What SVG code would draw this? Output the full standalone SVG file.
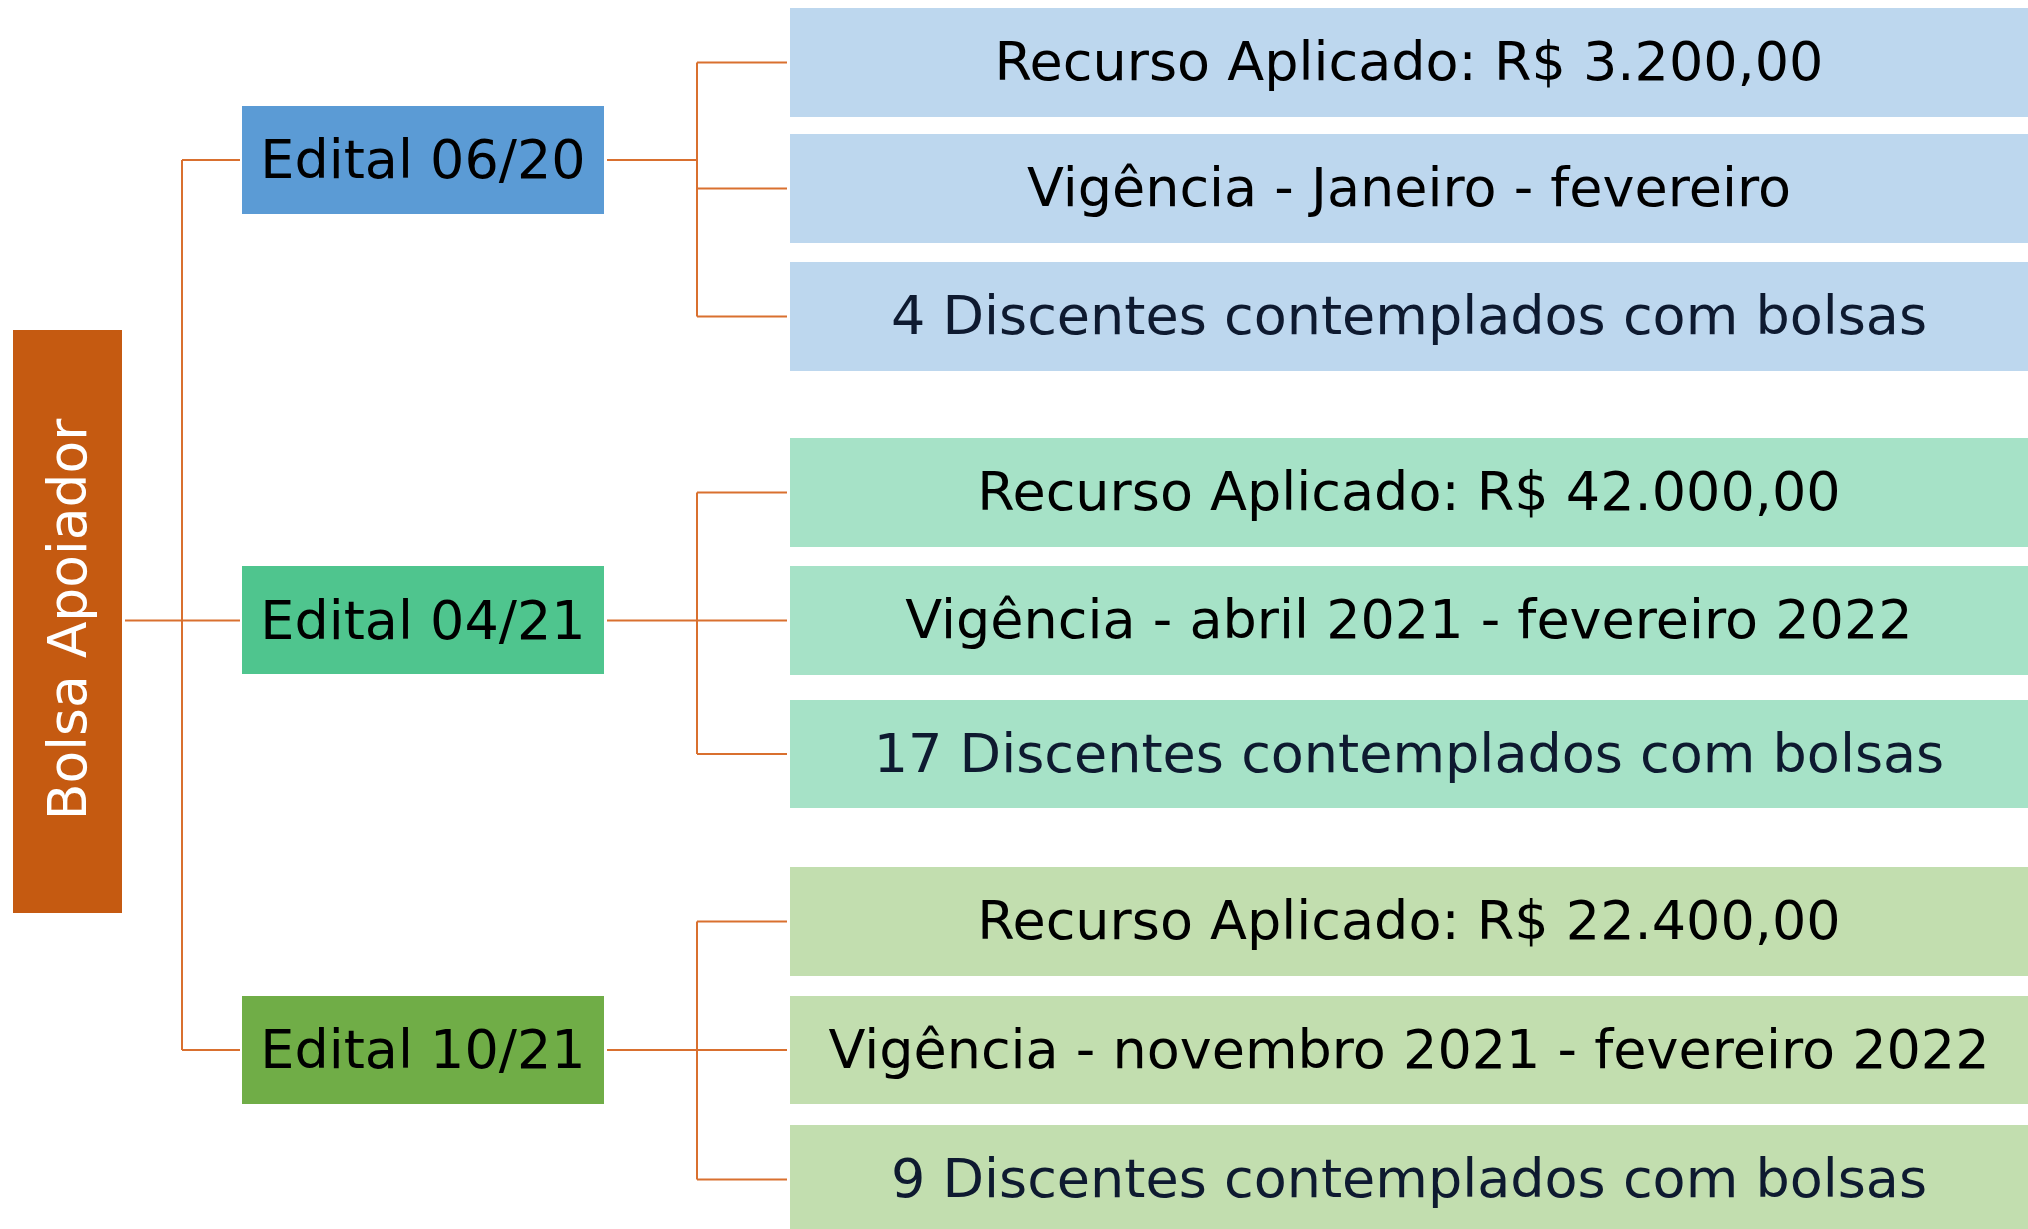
<svg xmlns="http://www.w3.org/2000/svg" width="2028" height="1229" viewBox="0 0 2028 1229">
  <style>
    .t { font-family: "DejaVu Sans", Verdana, sans-serif; font-size: 54px; text-anchor: middle; }
    .dark { fill: #000000; }
    .navy { fill: #0E1A30; }
    .con { fill: none; stroke: #D9702F; stroke-width: 2; }
    .b1 { fill: #BDD7EE; }
    .b2 { fill: #A6E2C7; }
    .b3 { fill: #C2DEAF; }
  </style>
  <rect width="2028" height="1229" fill="#FFFFFF"/>

  <g id="connectors">
    <path class="con" d="M125 620.5 H182 M182 160 V1050 M182 160 H240 M182 620.5 H240 M182 1050 H240"/>
    <path class="con" d="M607 160 H697 M697 62.5 V316.5 M697 62.5 H787 M697 188.5 H787 M697 316.5 H787"/>
    <path class="con" d="M607 620.5 H697 M697 492.5 V754 M697 492.5 H787 M697 620.5 H787 M697 754 H787"/>
    <path class="con" d="M607 1050 H697 M697 921.5 V1179.5 M697 921.5 H787 M697 1050 H787 M697 1179.5 H787"/>
  </g>

  <g id="root">
    <rect x="13" y="330" width="109" height="583" fill="#C55A11"/>
    <text class="t" transform="translate(85.5,619.5) rotate(-90)" x="0" y="0" fill="#FFFFFF" style="font-size:53.5px">Bolsa Apoiador</text>
  </g>

  <g id="edital-0620">
    <rect x="242" y="106" width="362" height="108" fill="#5B9BD5"/>
    <text class="t dark" x="423" y="178">Edital 06/20</text>
  </g>
  <g id="edital-0421">
    <rect x="242" y="566" width="362" height="108" fill="#4FC58E"/>
    <text class="t dark" x="423" y="638.5">Edital 04/21</text>
  </g>
  <g id="edital-1021">
    <rect x="242" y="996" width="362" height="108" fill="#70AD47"/>
    <text class="t dark" x="423" y="1068">Edital 10/21</text>
  </g>

  <g id="g1-recurso">
    <rect class="b1" x="790" y="8" width="1240" height="109"/>
    <text class="t dark" x="1409" y="80">Recurso Aplicado: R$ 3.200,00</text>
  </g>
  <g id="g1-vigencia">
    <rect class="b1" x="790" y="134" width="1240" height="109"/>
    <text class="t dark" x="1409" y="206">Vigência - Janeiro - fevereiro</text>
  </g>
  <g id="g1-discentes">
    <rect class="b1" x="790" y="262" width="1240" height="109"/>
    <text class="t navy" x="1409" y="334">4 Discentes contemplados com bolsas</text>
  </g>

  <g id="g2-recurso">
    <rect class="b2" x="790" y="438" width="1240" height="109"/>
    <text class="t dark" x="1409" y="510">Recurso Aplicado: R$ 42.000,00</text>
  </g>
  <g id="g2-vigencia">
    <rect class="b2" x="790" y="566" width="1240" height="109"/>
    <text class="t dark" x="1409" y="638">Vigência - abril 2021 - fevereiro 2022</text>
  </g>
  <g id="g2-discentes">
    <rect class="b2" x="790" y="700" width="1240" height="108"/>
    <text class="t navy" x="1409" y="771.5">17 Discentes contemplados com bolsas</text>
  </g>

  <g id="g3-recurso">
    <rect class="b3" x="790" y="867" width="1240" height="109"/>
    <text class="t dark" x="1409" y="939">Recurso Aplicado: R$ 22.400,00</text>
  </g>
  <g id="g3-vigencia">
    <rect class="b3" x="790" y="996" width="1240" height="108"/>
    <text class="t dark" x="1409" y="1067.5">Vigência - novembro 2021 - fevereiro 2022</text>
  </g>
  <g id="g3-discentes">
    <rect class="b3" x="790" y="1125" width="1240" height="110"/>
    <text class="t navy" x="1409" y="1197">9 Discentes contemplados com bolsas</text>
  </g>
</svg>
